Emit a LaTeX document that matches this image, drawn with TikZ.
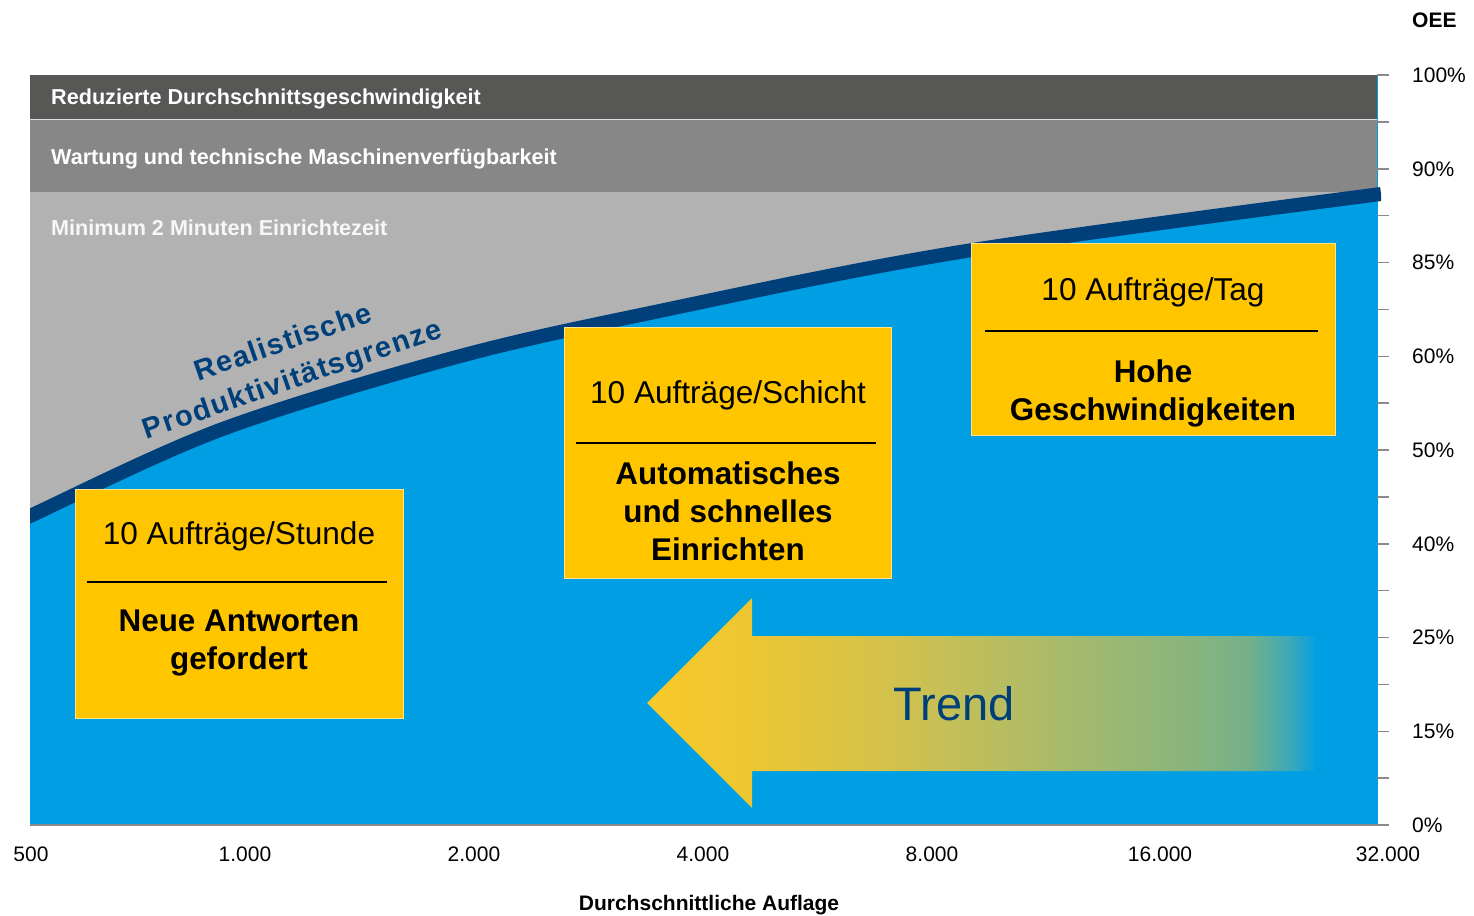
\documentclass[tikz,border=0pt]{standalone}
\usepackage{fontspec}
\setmainfont{Liberation Sans}
\newfontfamily\spacedfont[LetterSpace=5]{Liberation Sans}
\usetikzlibrary{calc}
\definecolor{plotblue}{HTML}{009FE3}
\definecolor{darkband}{HTML}{575756}
\definecolor{midband}{HTML}{878787}
\definecolor{lightband}{HTML}{B2B2B2}
\definecolor{curveblue}{HTML}{00407A}
\definecolor{boxyellow}{HTML}{FFC600}
\definecolor{boxedge}{HTML}{FFE48C}
\definecolor{axisgray}{HTML}{8A8A8A}
\definecolor{trA}{HTML}{F8C92A}
\definecolor{trB}{HTML}{ECC632}
\definecolor{trC}{HTML}{D5C24A}
\definecolor{trD}{HTML}{B8BD60}
\definecolor{trE}{HTML}{9EB872}
\definecolor{trF}{HTML}{86B47E}
\definecolor{trG}{HTML}{74B08A}
\definecolor{trH}{HTML}{3DA8B8}
\definecolor{trI}{HTML}{05A0E2}
\pgfdeclarehorizontalshading{trendshade}{100bp}{color(0bp)=(trA); color(25bp)=(trA); color(32.9bp)=(trB); color(42.4bp)=(trC); color(51.4bp)=(trD); color(58.9bp)=(trE); color(66.4bp)=(trF); color(70.1bp)=(trG); color(73.1bp)=(trH); color(75bp)=(trI); color(100bp)=(trI)}
\tikzset{
  bandtext/.style={anchor=base west, inner sep=0pt, font=\fontsize{21.6}{25}\selectfont\bfseries},
  ybox/.style={anchor=north west, fill=boxyellow, draw=boxedge, line width=1pt, inner sep=0pt},
  boxtop/.style={anchor=base, inner sep=0pt, font=\fontsize{31.6}{36}\selectfont},
  boxbold/.style={anchor=base, inner sep=0pt, font=\fontsize{31.4}{36}\selectfont\bfseries},
  divider/.style={line width=2pt, black},
  ylab/.style={anchor=west, inner sep=0pt, font=\fontsize{21}{25}\selectfont},
  xlab/.style={anchor=base, inner sep=0pt, font=\fontsize{21}{25}\selectfont},
  curvetext/.style={anchor=base, inner sep=0pt, rotate=19, text=curveblue, font=\fontsize{29}{34}\spacedfont\bfseries},
  tick/.style={axisgray, line width=1.5pt}
}
\begin{document}
\begin{tikzpicture}[x=1pt,y=-1pt]
\useasboundingbox (0,0) rectangle (1474,915);
\fill[white] (0,0) rectangle (1474,915);
% plot area
\fill[plotblue] (29.5,75) rectangle (1377.5,825);
\fill[darkband] (30,75) rectangle (1376.5,119.5);
\fill[midband] (30,119.5) rectangle (1376.5,192);
\draw[line width=1pt, white!75!gray] (30,119.5) -- (1376.5,119.5);
\fill[lightband] (30,192) -- (30,516) -- plot[smooth,tension=0.55] coordinates {(30,516) (220,430) (453,358) (650,313) (960,252) (1381,194)} -- (1376.5,192) -- cycle;
\begin{scope}
\clip (30,0) rectangle (1381,915);
\draw[curveblue, line width=14pt] plot[smooth,tension=0.55] coordinates {(24,519) (30,516) (220,430) (453,358) (650,313) (960,252) (1381,194)};
\end{scope}
% band labels
\node[bandtext, text=white] (l1) at (51,105) {Reduzierte Durchschnittsgeschwindigkeit};
\node[bandtext, text=white] (l2) at (51,164) {Wartung und technische Maschinenverfügbarkeit};
\node[bandtext, text=white!94!gray] (l3) at (51,235) {Minimum 2 Minuten Einrichtezeit};
% curve label
\node[curvetext] (c1) at (286,351) {Realistische};
\node[curvetext] (c2) at (295,388) {Produktivitätsgrenze};
% boxes
\node[ybox, minimum width=328pt, minimum height=229pt] (b1) at (75,489) {};
\node[boxtop] (b1t) at (239,544) {10 Aufträge/Stunde};
\draw[divider] (87,582) -- (387,582);
\node[boxbold] (b1a) at (239,631) {Neue Antworten};
\node[boxbold] (b1b) at (239,669) {gefordert};
\node[ybox, minimum width=327pt, minimum height=251pt] (b2) at (564,327) {};
\node[boxtop] (b2t) at (728,403) {10 Aufträge/Schicht};
\draw[divider] (576,443) -- (876,443);
\node[boxbold] (b2a) at (728,484) {Automatisches};
\node[boxbold] (b2b) at (728,522) {und schnelles};
\node[boxbold] (b2c) at (728,560) {Einrichten};
\node[ybox, minimum width=364pt, minimum height=192pt] (b3) at (971,243) {};
\node[boxtop] (b3t) at (1153,300) {10 Aufträge/Tag};
\draw[divider] (985,331) -- (1318,331);
\node[boxbold] (b3a) at (1153,382) {Hohe};
\node[boxbold] (b3b) at (1153,420) {Geschwindigkeiten};
% trend arrow
\shade[shading=trendshade] (647,703) -- (752,598) -- (752,636) -- (1315,636) -- (1315,771) -- (752,771) -- (752,808) -- cycle;
\node[anchor=base, inner sep=0pt, text=curveblue, font=\fontsize{47}{56}\selectfont] (trend) at (954,720) {Trend};
% right axis
\draw[tick] (30,825) -- (1389,825);
\foreach \i in {0,...,15} {
  \draw[tick] (1377,{75+\i*46.875}) -- (1389,{75+\i*46.875});
}
\node[ylab, font=\fontsize{21}{25}\selectfont\bfseries] (oee) at (1412,20) {OEE};
\node[ylab] (y100) at (1412,75) {100\%};
\node[ylab] (y90) at (1412,169) {90\%};
\node[ylab] (y85) at (1412,262) {85\%};
\node[ylab] (y60) at (1412,356) {60\%};
\node[ylab] (y50) at (1412,450) {50\%};
\node[ylab] (y40) at (1412,544) {40\%};
\node[ylab] (y25) at (1412,637) {25\%};
\node[ylab] (y15) at (1412,731) {15\%};
\node[ylab] (y0) at (1412,825) {0\%};
% bottom axis labels
\node[xlab] (x1) at (31,861) {500};
\node[xlab] (x2) at (245,861) {1.000};
\node[xlab] (x3) at (474,861) {2.000};
\node[xlab] (x4) at (703,861) {4.000};
\node[xlab] (x5) at (932,861) {8.000};
\node[xlab] (x6) at (1160,861) {16.000};
\node[xlab] (x7) at (1388,861) {32.000};
\node[xlab, font=\fontsize{21}{25}\selectfont\bfseries] (xt) at (709,910) {Durchschnittliche Auflage};
\end{tikzpicture}
\end{document}
